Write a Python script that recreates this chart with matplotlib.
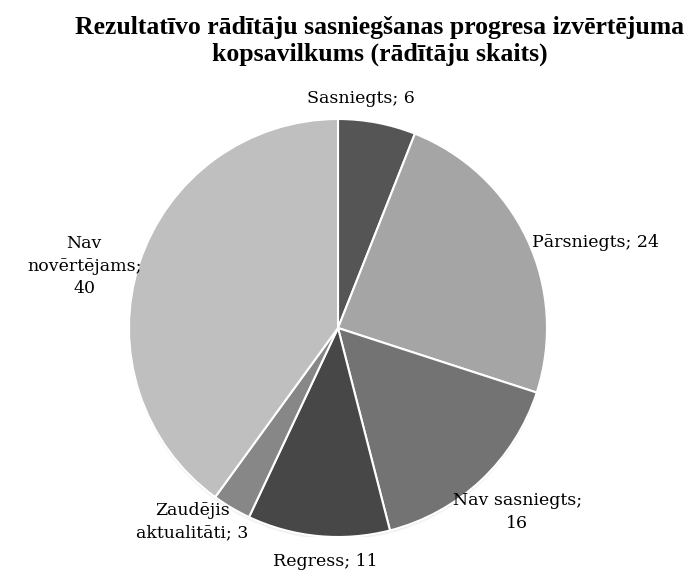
import matplotlib
matplotlib.use("Agg")
import matplotlib.pyplot as plt
from matplotlib.patches import Circle
import numpy as np

categories = ["Sasniegts", "Pārsniegts", "Nav sasniegts", "Regress",
              "Zaudējis aktualitāti", "Nav novērtējams"]
values = [6, 24, 16, 11, 3, 40]
label_texts = ["Sasniegts; 6", "Pārsniegts; 24", "Nav sasniegts;\n16", "Regress; 11",
               "Zaudējis\naktualitāti; 3", "Nav\nnovērtējams;\n40"]
colors = ["#555555", "#a5a5a5", "#737373", "#474747", "#878787", "#bfbfbf"]
title = "Rezultatīvo rādītāju sasniegšanas progresa izvērtējuma\nkopsavilkums (rādītāju skaits)"

plt.rcParams['font.family'] = ['DejaVu Serif']

fig = plt.figure(figsize=(6.91, 5.72), dpi=100)
# pie center (338,328) px, radius 209 px
r = 209
ax = fig.add_axes([(338 - r) / 691, (572 - 328 - r) / 572, 2 * r / 691, 2 * r / 572])

# faint soft shadow under the pie (bottom only)
for k in range(1, 4):
    ax.add_patch(Circle((0, -k * 0.005), 1.0, facecolor="black",
                        edgecolor="none", alpha=0.03, zorder=0))

wedges, _ = ax.pie(values, colors=colors, startangle=90, counterclock=False,
                   wedgeprops=dict(edgecolor="white", linewidth=1.5, zorder=2), radius=1.0)
ax.set_xlim(-1, 1)
ax.set_ylim(-1, 1)
ax.set_aspect("equal")
ax.axis("off")

# label placement: (radius factor, angle offset, ha)
place = [(1.105, 5.0, "center"), (1.23, -5.7, "left"), (1.23, 1.0, "center"),
         (1.117, 2.4, "center"), (1.16, -6.4, "center"), (1.25, 4.3, "center")]
for w, txt, (rf, off, ha) in zip(wedges, label_texts, place):
    mid = np.deg2rad((w.theta1 + w.theta2) / 2 + off)
    x, y = rf * np.cos(mid), rf * np.sin(mid)
    if ha == "left":
        x -= 0.23
    ax.text(x, y, txt, ha=ha, va="center", fontsize=12.5, color="#000000",
            linespacing=1.45, clip_on=False, fontfamily=['DejaVu Serif'])

fig.text(380 / 691, 1 - 16 / 572, title, ha="center", va="top", fontsize=18.5,
         fontweight="bold", linespacing=1.2,
         fontfamily=['Liberation Serif', 'DejaVu Serif'])

fig.savefig("out.png", dpi=100)
